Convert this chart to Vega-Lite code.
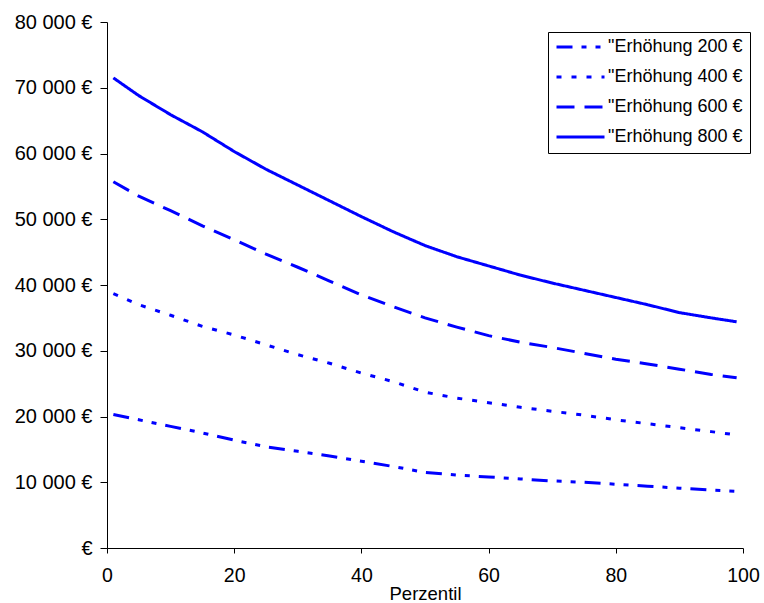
{
  "$schema": "https://vega.github.io/schema/vega-lite/v6.json",
  "width": 636,
  "height": 526,
  "autosize": {"type": "none"},
  "padding": {"left": 107, "top": 22, "right": 21, "bottom": 55},
  "background": "white",
  "config": {
    "view": {"stroke": null},
    "font": "Liberation Sans"
  },
  "data": {
    "values": [
      {"p": 1, "s": "\"Erhöhung 200 €", "v": 20300},
      {"p": 5, "s": "\"Erhöhung 200 €", "v": 19500},
      {"p": 10, "s": "\"Erhöhung 200 €", "v": 18500},
      {"p": 15, "s": "\"Erhöhung 200 €", "v": 17500},
      {"p": 20, "s": "\"Erhöhung 200 €", "v": 16400},
      {"p": 25, "s": "\"Erhöhung 200 €", "v": 15400},
      {"p": 30, "s": "\"Erhöhung 200 €", "v": 14700},
      {"p": 35, "s": "\"Erhöhung 200 €", "v": 14000},
      {"p": 40, "s": "\"Erhöhung 200 €", "v": 13200},
      {"p": 45, "s": "\"Erhöhung 200 €", "v": 12400},
      {"p": 50, "s": "\"Erhöhung 200 €", "v": 11500},
      {"p": 55, "s": "\"Erhöhung 200 €", "v": 11100},
      {"p": 60, "s": "\"Erhöhung 200 €", "v": 10800},
      {"p": 65, "s": "\"Erhöhung 200 €", "v": 10500},
      {"p": 70, "s": "\"Erhöhung 200 €", "v": 10200},
      {"p": 75, "s": "\"Erhöhung 200 €", "v": 10000},
      {"p": 80, "s": "\"Erhöhung 200 €", "v": 9700},
      {"p": 85, "s": "\"Erhöhung 200 €", "v": 9400},
      {"p": 90, "s": "\"Erhöhung 200 €", "v": 9100},
      {"p": 95, "s": "\"Erhöhung 200 €", "v": 8800},
      {"p": 99, "s": "\"Erhöhung 200 €", "v": 8600},
      {"p": 1, "s": "\"Erhöhung 400 €", "v": 38700},
      {"p": 5, "s": "\"Erhöhung 400 €", "v": 37000},
      {"p": 10, "s": "\"Erhöhung 400 €", "v": 35400},
      {"p": 15, "s": "\"Erhöhung 400 €", "v": 33700},
      {"p": 20, "s": "\"Erhöhung 400 €", "v": 32400},
      {"p": 25, "s": "\"Erhöhung 400 €", "v": 30900},
      {"p": 30, "s": "\"Erhöhung 400 €", "v": 29400},
      {"p": 35, "s": "\"Erhöhung 400 €", "v": 28100},
      {"p": 40, "s": "\"Erhöhung 400 €", "v": 26600},
      {"p": 45, "s": "\"Erhöhung 400 €", "v": 25300},
      {"p": 50, "s": "\"Erhöhung 400 €", "v": 23700},
      {"p": 55, "s": "\"Erhöhung 400 €", "v": 22800},
      {"p": 60, "s": "\"Erhöhung 400 €", "v": 22100},
      {"p": 65, "s": "\"Erhöhung 400 €", "v": 21400},
      {"p": 70, "s": "\"Erhöhung 400 €", "v": 20800},
      {"p": 75, "s": "\"Erhöhung 400 €", "v": 20200},
      {"p": 80, "s": "\"Erhöhung 400 €", "v": 19500},
      {"p": 85, "s": "\"Erhöhung 400 €", "v": 18900},
      {"p": 90, "s": "\"Erhöhung 400 €", "v": 18300},
      {"p": 95, "s": "\"Erhöhung 400 €", "v": 17700},
      {"p": 99, "s": "\"Erhöhung 400 €", "v": 17200},
      {"p": 1, "s": "\"Erhöhung 600 €", "v": 55700},
      {"p": 5, "s": "\"Erhöhung 600 €", "v": 53500},
      {"p": 10, "s": "\"Erhöhung 600 €", "v": 51300},
      {"p": 15, "s": "\"Erhöhung 600 €", "v": 49000},
      {"p": 20, "s": "\"Erhöhung 600 €", "v": 46900},
      {"p": 25, "s": "\"Erhöhung 600 €", "v": 44700},
      {"p": 30, "s": "\"Erhöhung 600 €", "v": 42700},
      {"p": 35, "s": "\"Erhöhung 600 €", "v": 40600},
      {"p": 40, "s": "\"Erhöhung 600 €", "v": 38500},
      {"p": 45, "s": "\"Erhöhung 600 €", "v": 36700},
      {"p": 50, "s": "\"Erhöhung 600 €", "v": 35000},
      {"p": 55, "s": "\"Erhöhung 600 €", "v": 33600},
      {"p": 60, "s": "\"Erhöhung 600 €", "v": 32300},
      {"p": 65, "s": "\"Erhöhung 600 €", "v": 31300},
      {"p": 70, "s": "\"Erhöhung 600 €", "v": 30500},
      {"p": 75, "s": "\"Erhöhung 600 €", "v": 29600},
      {"p": 80, "s": "\"Erhöhung 600 €", "v": 28700},
      {"p": 85, "s": "\"Erhöhung 600 €", "v": 28000},
      {"p": 90, "s": "\"Erhöhung 600 €", "v": 27200},
      {"p": 95, "s": "\"Erhöhung 600 €", "v": 26400},
      {"p": 99, "s": "\"Erhöhung 600 €", "v": 25900},
      {"p": 1, "s": "\"Erhöhung 800 €", "v": 71500},
      {"p": 5, "s": "\"Erhöhung 800 €", "v": 68800},
      {"p": 10, "s": "\"Erhöhung 800 €", "v": 65900},
      {"p": 15, "s": "\"Erhöhung 800 €", "v": 63300},
      {"p": 20, "s": "\"Erhöhung 800 €", "v": 60300},
      {"p": 25, "s": "\"Erhöhung 800 €", "v": 57600},
      {"p": 30, "s": "\"Erhöhung 800 €", "v": 55200},
      {"p": 35, "s": "\"Erhöhung 800 €", "v": 52800},
      {"p": 40, "s": "\"Erhöhung 800 €", "v": 50400},
      {"p": 45, "s": "\"Erhöhung 800 €", "v": 48100},
      {"p": 50, "s": "\"Erhöhung 800 €", "v": 46000},
      {"p": 55, "s": "\"Erhöhung 800 €", "v": 44300},
      {"p": 60, "s": "\"Erhöhung 800 €", "v": 42900},
      {"p": 65, "s": "\"Erhöhung 800 €", "v": 41500},
      {"p": 70, "s": "\"Erhöhung 800 €", "v": 40300},
      {"p": 75, "s": "\"Erhöhung 800 €", "v": 39200},
      {"p": 80, "s": "\"Erhöhung 800 €", "v": 38100},
      {"p": 85, "s": "\"Erhöhung 800 €", "v": 37000},
      {"p": 90, "s": "\"Erhöhung 800 €", "v": 35800},
      {"p": 95, "s": "\"Erhöhung 800 €", "v": 35000},
      {"p": 99, "s": "\"Erhöhung 800 €", "v": 34400}
    ]
  },
  "mark": {"type": "line", "color": "#0000FF", "strokeWidth": 3, "strokeCap": "butt"},
  "encoding": {
    "x": {
      "field": "p",
      "type": "quantitative",
      "scale": {"domain": [0, 100], "nice": false},
      "axis": {
        "title": "Perzentil",
        "values": [0, 20, 40, 60, 80, 100],
        "grid": false,
        "domainColor": "black",
        "tickColor": "black",
        "tickSize": 5,
        "labelPadding": 13,
        "labelFontSize": 19.5,
        "labelColor": "black",
        "labelFlush": false,
        "titleFontSize": 18.5,
        "titleFontWeight": "normal",
        "titleColor": "black",
        "titleBaseline": "alphabetic",
        "titleY": 51
      }
    },
    "y": {
      "field": "v",
      "type": "quantitative",
      "scale": {"domain": [0, 80000], "nice": false},
      "axis": {
        "title": null,
        "values": [0, 10000, 20000, 30000, 40000, 50000, 60000, 70000, 80000],
        "grid": false,
        "domainColor": "black",
        "tickColor": "black",
        "tickSize": 7,
        "labelPadding": 8,
        "labelFontSize": 20,
        "labelColor": "black",
        "labelExpr": "datum.value == 0 ? '€' : replace(format(datum.value, ','), ',', ' ') + ' €'"
      }
    },
    "strokeDash": {
      "field": "s",
      "type": "nominal",
      "scale": {
        "domain": ["\"Erhöhung 200 €", "\"Erhöhung 400 €", "\"Erhöhung 600 €", "\"Erhöhung 800 €"],
        "range": [[16, 9, 5, 9, 5, 9], [5, 10], [18, 10], [1, 0]]
      },
      "legend": {
        "title": null,
        "orient": "none",
        "legendX": 441,
        "legendY": 10,
        "strokeColor": "black",
        "fillColor": "white",
        "padding": 7,
        "symbolType": "stroke",
        "symbolSize": 2304,
        "symbolStrokeWidth": 3,
        "symbolStrokeColor": "#0000FF",
        "clipHeight": 16,
        "labelFontSize": 18,
        "labelColor": "black",
        "labelOffset": 2,
        "labelLimit": 300,
        "rowPadding": 12
      }
    }
  }
}
